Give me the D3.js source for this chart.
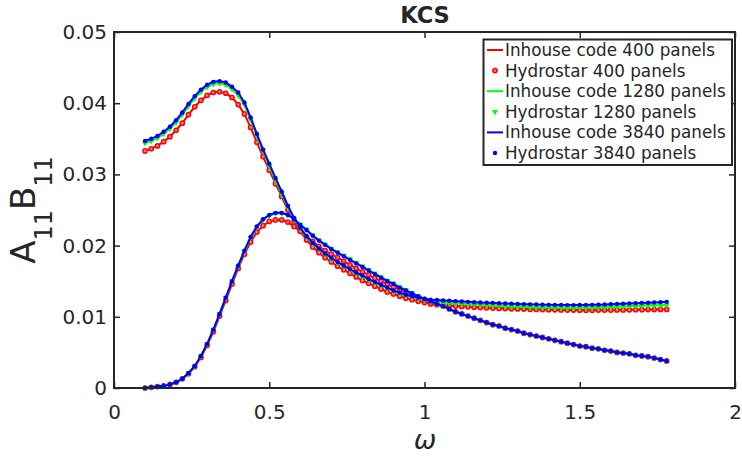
<!DOCTYPE html>
<html><head><meta charset="utf-8">
<script src="https://cdn.jsdelivr.net/npm/d3@7"></script>
<style>body{margin:0;background:#fff} text{font-family:"DejaVu Sans",sans-serif;fill:#262626}</style>
</head><body><svg id="c" width="742" height="461"></svg>
<script>
const omega = [0.10,0.12,0.14,0.16,0.18,0.20,0.22,0.24,0.26,0.28,
 0.30,0.32,0.34,0.36,0.38,0.40,0.42,0.44,0.46,0.48,
 0.50,0.52,0.54,0.56,0.58,0.60,0.62,0.64,0.66,0.68,
 0.70,0.72,0.74,0.76,0.78,0.80,0.82,0.84,0.86,0.88,
 0.90,0.92,0.94,0.96,0.98,1.00,1.02,1.04,1.06,1.08,
 1.10,1.12,1.14,1.16,1.18,1.20,1.22,1.24,1.26,1.28,
 1.30,1.32,1.34,1.36,1.38,1.40,1.42,1.44,1.46,1.48,
 1.50,1.52,1.54,1.56,1.58,1.60,1.62,1.64,1.66,1.68,
 1.70,1.72,1.74,1.76,1.78];

const A400 = [.0333,.0336,.0340,.0346,.0353,.0362,.0372,.0384,.0395,.0404,
 .0411,.0415,.0416,.0414,.0408,.0398,.0385,.0366,.0345,.0325,
 .0306,.0287,.0269,.0250,.0234,.0220,.0208,.0198,.0190,.0183,
 .0177,.0171,.0166,.0161,.0156,.0151,.0147,.0143,.0139,.0135,
 .0132,.0129,.0126,.0124,.0122,.0120,.0118,.0117,.0116,.01155,
 .0115,.01145,.0114,.01135,.0113,.01126,.01122,.01118,.01115,.01112,
 .0111,.01108,.01106,.01104,.01102,.0110,.01098,.01096,.01095,.01094,
 .01093,.01093,.01093,.01094,.01094,.01095,.01096,.01097,.01098,.01099,
 .0110,.01101,.01102,.01103,.01104];
const A1280 = [.0344,.0347,.0351,.0357,.0364,.0373,.0384,.0396,.0407,.0416,
 .0423,.0427,.0428,.0426,.0420,.0411,.0398,.0377,.0354,.0333,
 .0312,.0292,.0273,.0254,.0237,.0224,.0212,.0203,.0195,.0188,
 .0182,.0176,.0171,.0166,.0161,.0156,.0152,.0148,.0144,.0140,
 .0136,.0133,.0130,.0128,.0126,.0124,.0122,.0121,.0120,.01195,
 .0119,.01185,.0118,.01175,.0117,.01165,.0116,.01155,.0115,.01145,
 .0114,.01138,.01136,.01134,.01132,.0113,.01129,.01128,.01128,.01128,
 .01129,.0113,.01132,.01134,.01136,.01139,.01142,.01145,.01148,.01151,
 .01154,.01157,.0116,.01163,.01166];
const A3840 = [.0347,.0350,.0354,.0360,.0367,.0376,.0387,.0399,.0410,.0419,
 .0426,.0430,.0431,.0429,.0423,.0415,.0401,.0380,.0357,.0335,
 .0315,.0295,.0276,.0256,.0239,.0225,.0213,.0204,.0196,.0189,
 .0183,.0177,.0172,.0167,.0162,.0158,.0153,.0149,.0145,.0141,
 .0137,.0134,.0131,.0129,.0127,.01255,.0124,.01235,.0123,.01225,
 .0122,.01215,.0121,.01205,.0120,.01198,.01195,.0119,.01187,.01184,
 .0118,.01177,.01175,.01172,.0117,.01168,.01166,.01165,.01164,.01164,
 .01165,.01166,.01168,.0117,.01173,.01176,.0118,.01183,.01187,.0119,
 .01194,.01198,.01202,.01206,.0121];

const B400 = [.0000,.0001,.0002,.0003,.0005,.0008,.0013,.0020,.0030,.0043,
 .0060,.0079,.0101,.0123,.0146,.0168,.0188,.0205,.0219,.0228,
 .0234,.0236,.0236,.0233,.0227,.0220,.0213,.0206,.0199,.0193,
 .0188,.0183,.0178,.0173,.0168,.0163,.0159,.0154,.0150,.0146,
 .0142,.0138,.0134,.0131,.0127,.0124,.0121,.0118,.0115,.0111,
 .0107,.0104,.0101,.0098,.0095,.0092,.0089,.0087,.0084,.0082,
 .0080,.0077,.0075,.0073,.0071,.0069,.0067,.0065,.0063,.0061,
 .0059,.0058,.0056,.0055,.0053,.0052,.0050,.0049,.0048,.0046,
 .0045,.0044,.0042,.0040,.0038];
const B1280 = [.0000,.0001,.0002,.0003,.0005,.0008,.0013,.0021,.0031,.0045,
 .0062,.0082,.0104,.0127,.0150,.0171,.0192,.0211,.0226,.0236,
 .0242,.0245,.0245,.0243,.0237,.0230,.0223,.0215,.0208,.0202,
 .0196,.0191,.0186,.0181,.0176,.0171,.0166,.0161,.0156,.0151,
 .0147,.0142,.0138,.0133,.0129,.0125,.0122,.0118,.0115,.0111,
 .0107,.0104,.0101,.0098,.0095,.0092,.0089,.0087,.0084,.0082,
 .0080,.0077,.0075,.0073,.0071,.0069,.0067,.0065,.0063,.0061,
 .0059,.0058,.0056,.0055,.0053,.0052,.0050,.0049,.0048,.0046,
 .0045,.0044,.0042,.0040,.0038];
const B3840 = [.0000,.0001,.0002,.0003,.0005,.0008,.0013,.0021,.0031,.0045,
 .0062,.0082,.0104,.0127,.0150,.0172,.0193,.0212,.0227,.0237,
 .0243,.0246,.0246,.0243,.0237,.0229,.0222,.0214,.0207,.0201,
 .0195,.0190,.0185,.0180,.0175,.0170,.0165,.0160,.0155,.0150,
 .0146,.0141,.0137,.0133,.0129,.0125,.0122,.0118,.0115,.0111,
 .0107,.0104,.0101,.0098,.0095,.0092,.0089,.0087,.0084,.0082,
 .0080,.0077,.0075,.0073,.0071,.0069,.0067,.0065,.0063,.0061,
 .0059,.0058,.0056,.0055,.0053,.0052,.0050,.0049,.0048,.0046,
 .0045,.0044,.0042,.0040,.0038];

const xTicks = [0, 0.5, 1, 1.5, 2];
const xTickLabels = ["0", "0.5", "1", "1.5", "2"];
const yTicks = [0, 0.01, 0.02, 0.03, 0.04, 0.05];
const yTickLabels = ["0", "0.01", "0.02", "0.03", "0.04", "0.05"];
const legendLabels = ["Inhouse code 400 panels","Hydrostar 400 panels","Inhouse code 1280 panels","Hydrostar 1280 panels","Inhouse code 3840 panels","Hydrostar 3840 panels"];
const colors = ["#ff0000", "#00ff00", "#0000ff"];

const series = [
  {A: A400, B: B400, color: colors[0], marker: "ring"},
  {A: A1280, B: B1280, color: colors[1], marker: "tri"},
  {A: A3840, B: B3840, color: colors[2], marker: "dot"}
];

const svg = d3.select("#c");
const x = d3.scaleLinear().domain([0, 2]).range([114, 735]);
const y = d3.scaleLinear().domain([0, 0.05]).range([388, 32]);
const axisCol = "#262626";

const line = d3.line().x(d => x(d[0])).y(d => y(d[1]));

function drawMarker(g, type, color, cx, cy) {
  if (type === "ring") {
    g.append("circle").attr("cx", cx).attr("cy", cy).attr("r", 2.1)
      .attr("fill", "#ff8080").attr("stroke", color).attr("stroke-width", 1.5);
  } else if (type === "tri") {
    g.append("path").attr("transform", `translate(${cx},${cy}) rotate(180)`)
      .attr("d", d3.symbol(d3.symbolTriangle, 16)()).attr("fill", color);
  } else {
    g.append("circle").attr("cx", cx).attr("cy", cy).attr("r", 2.2).attr("fill", color);
  }
}

const plot = svg.append("g");
series.forEach(s => {
  ["A", "B"].forEach(k => {
    const pts = omega.map((w, i) => [w, s[k][i]]);
    plot.append("path").attr("d", line(pts)).attr("fill", "none")
      .attr("stroke", s.color).attr("stroke-width", 2);
  });
  ["A", "B"].forEach(k => {
    const mg = plot.append("g");
    omega.forEach((w, i) => drawMarker(mg, s.marker, s.color, x(w), y(s[k][i])));
  });
});

function styleAxis(g) {
  g.select(".domain").remove();
  g.selectAll("line").attr("stroke", axisCol).attr("stroke-width", 1.5);
  g.selectAll("text").attr("font-size", 20).attr("fill", axisCol).attr("font-family", "DejaVu Sans");
}
svg.append("g").attr("transform", "translate(0,388)")
  .call(d3.axisBottom(x).tickValues(xTicks).tickFormat((d, i) => xTickLabels[i]).tickSizeInner(-6).tickSizeOuter(0).tickPadding(17))
  .call(styleAxis);
svg.append("g").attr("transform", "translate(0,32)")
  .call(d3.axisTop(x).tickValues(xTicks).tickFormat("").tickSizeInner(-6).tickSizeOuter(0))
  .call(styleAxis);
svg.append("g").attr("transform", "translate(114,0)")
  .call(d3.axisLeft(y).tickValues(yTicks).tickFormat((d, i) => yTickLabels[i]).tickSizeInner(-6).tickSizeOuter(0).tickPadding(7))
  .call(styleAxis);
svg.append("g").attr("transform", "translate(735,0)")
  .call(d3.axisRight(y).tickValues(yTicks).tickFormat("").tickSizeInner(-6).tickSizeOuter(0))
  .call(styleAxis);

svg.append("rect").attr("x", 114).attr("y", 32).attr("width", 621).attr("height", 356)
  .attr("fill", "none").attr("stroke", axisCol).attr("stroke-width", 2);

svg.append("text").attr("x", 425).attr("y", 23).attr("text-anchor", "middle")
  .attr("font-size", 22.5).attr("font-weight", "bold").attr("fill", "#000").text("KCS");

svg.append("text").attr("x", 425).attr("y", 449).attr("text-anchor", "middle")
  .attr("font-size", 27).attr("font-style", "italic").text("ω");

const yl = svg.append("text").attr("transform", "translate(35,210) rotate(-90)")
  .attr("text-anchor", "middle").attr("font-size", 34);
yl.append("tspan").text("A");
yl.append("tspan").attr("font-size", 24).attr("dy", 17).text("11");
yl.append("tspan").attr("dy", -17).text("B");
yl.append("tspan").attr("font-size", 24).attr("dy", 17).text("11");

const lg = svg.append("g");
lg.append("rect").attr("x", 483.5).attr("y", 39.5).attr("width", 248.5).attr("height", 125.5)
  .attr("fill", "#fff").attr("stroke", axisCol).attr("stroke-width", 2);
legendLabels.forEach((lab, i) => {
  const cy = 50 + i * 20.6;
  const s = series[Math.floor(i / 2)];
  if (i % 2 === 0) {
    lg.append("line").attr("x1", 487).attr("x2", 503).attr("y1", cy).attr("y2", cy)
      .attr("stroke", s.color).attr("stroke-width", 2);
  } else {
    drawMarker(lg, s.marker, s.color, 495, cy);
  }
  lg.append("text").attr("x", 505).attr("y", cy + 6).attr("font-size", 16.8).attr("fill", "#000").text(lab);
});
</script></body></html>
